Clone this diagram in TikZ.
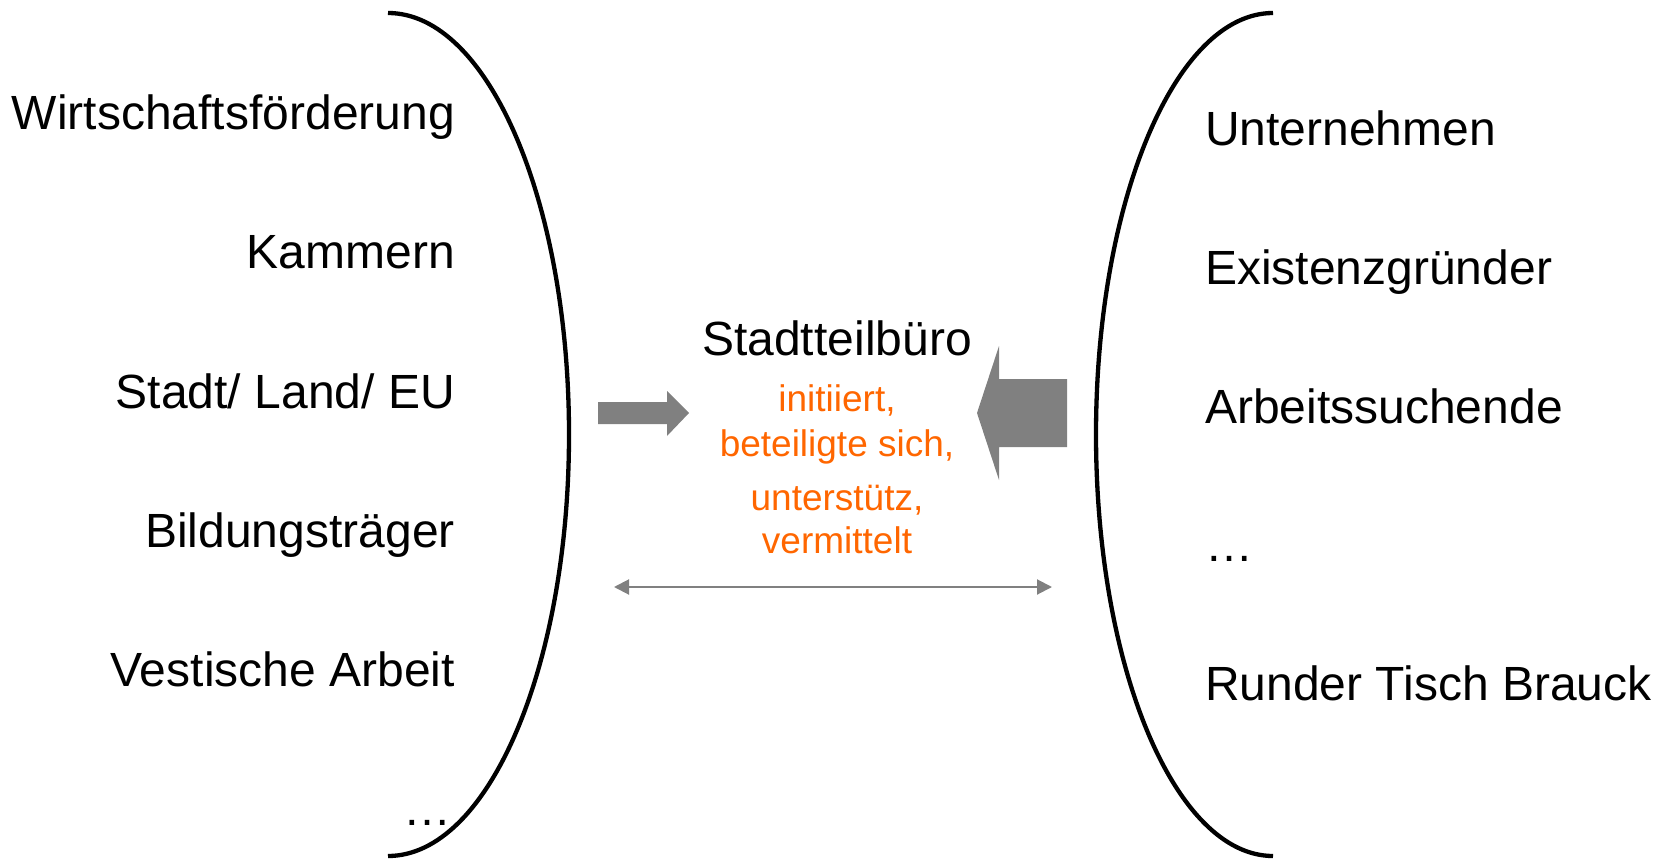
\documentclass[tikz,border=0pt]{standalone}
\usepackage{fontspec}
\setmainfont{Liberation Sans}
\usetikzlibrary{arrows.meta}
\definecolor{arrgray}{HTML}{808080}
\definecolor{actorange}{HTML}{FF6600}
\tikzset{
  lefttext/.style={anchor=base east, inner sep=0pt, font=\fontsize{48}{58}\selectfont},
  righttext/.style={anchor=base west, inner sep=0pt, font=\fontsize{48}{58}\selectfont},
  midtext/.style={anchor=base, inner sep=0pt, font=\fontsize{48}{58}\selectfont},
  acttext/.style={anchor=base, inner sep=0pt, text=actorange, font=\fontsize{37}{45}\selectfont},
  bracket/.style={line width=4.3pt},
  blockarrow/.style={fill=arrgray, draw=none},
  thinarrow/.style={draw=arrgray, line width=2pt, {Triangle[length=15pt,width=15pt]}-{Triangle[length=15pt,width=15pt]}}
}
\begin{document}
\begin{tikzpicture}[x=1pt,y=-1pt]
\useasboundingbox (0,0) rectangle (1668,861);
% brackets
\draw[bracket] (388,13) arc[start angle=-90, end angle=90, x radius=181, y radius=421.5];
\draw[bracket] (1273,13) arc[start angle=-90, end angle=-270, x radius=177, y radius=421.5];
% left column
\node[lefttext] (wf) at (455,130) {Wirtschaftsförderung};
\node[lefttext] (ka) at (455,269) {Kammern};
\node[lefttext] (sl) at (455,408) {Stadt/ Land/ EU};
\node[lefttext] (bt) at (455,547) {Bildungsträger};
\node[lefttext] (va) at (455,686) {Vestische Arbeit};
\node[lefttext] (ld) at (452,825) {\dots};
% right column
\node[righttext] (un) at (1205,146) {Unternehmen};
\node[righttext] (eg) at (1205,284.5) {Existenzgründer};
\node[righttext] (as) at (1205,423) {Arbeitssuchende};
\node[righttext] (rd) at (1205,561.5) {\dots};
\node[righttext] (rt) at (1205,700) {Runder Tisch Brauck};
% centre
\node[midtext] (sb) at (837,355) {Stadtteilbüro};
\node[acttext] (a1) at (837,411) {initiiert,};
\node[acttext] (a2) at (837,456) {beteiligte sich,};
\node[acttext] (a3) at (837,510) {unterstütz,};
\node[acttext] (a4) at (837,553) {vermittelt};
% block arrows
\fill[blockarrow] (598,402) -- (667,402) -- (667,391) -- (689,413) -- (667,436) -- (667,424) -- (598,424) -- cycle;
\fill[blockarrow] (1067,379) -- (999,379) -- (999,346) -- (977,413) -- (999,480) -- (999,447) -- (1067,447) -- cycle;
% thin double arrow
\coordinate (tl) at (614,587);
\coordinate (tr) at (1052,587);
\draw[thinarrow] (tl) -- (tr);
\end{tikzpicture}
\end{document}
